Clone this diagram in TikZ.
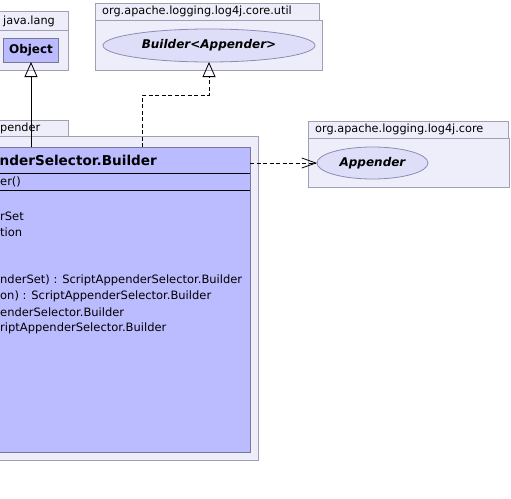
\documentclass[tikz,border=0pt]{standalone}
\usepackage{fontspec}
\setmainfont{DejaVu Sans}
\usetikzlibrary{arrows.meta,shapes.geometric}
\definecolor{pkgfill}{RGB}{238,238,251}
\definecolor{pkgline}{RGB}{160,160,180}
\definecolor{clsfill}{RGB}{187,187,255}
\definecolor{clsline}{RGB}{120,120,150}
\definecolor{ellfill}{RGB}{222,222,248}
\definecolor{ellline}{RGB}{140,140,180}
\tikzset{
  pkg/.style={draw=pkgline, fill=pkgfill, line width=0.9pt, anchor=north west, inner sep=0pt, outer sep=0pt},
  pkgtext/.style={anchor=west, inner sep=0pt, font=\fontsize{11.3}{13}\selectfont},
  cls/.style={draw=clsline, fill=clsfill, line width=0.9pt, anchor=north west, inner sep=0pt, outer sep=0pt},
  iface/.style={ellipse, draw=ellline, fill=ellfill, line width=0.8pt, inner sep=0pt, outer sep=0pt},
  mtext/.style={anchor=west, inner sep=0pt, font=\fontsize{11.5}{13}\selectfont},
  sepline/.style={draw=black, line width=0.9pt},
  inherit/.style={draw=black, line width=0.8pt, -{Triangle[open,length=15pt,width=13pt]}},
  realize/.style={draw=black, line width=0.8pt, dash pattern=on 4pt off 2.5pt, -{Triangle[open,length=15pt,width=13pt]}},
  depend/.style={draw=black, line width=0.8pt, dash pattern=on 4pt off 2.5pt, -{Straight Barb[length=14pt,width=10pt]}},
}
\begin{document}
\begin{tikzpicture}[x=1pt,y=-1pt]
\useasboundingbox (0,0) rectangle (511,498);
\clip (0,0) rectangle (511,498);
\fill[white] (0,0) rectangle (511,498);

% java.lang package
\node[pkg, minimum width=73, minimum height=19] (jltab) at (-5,11) {};
\node[pkg, minimum width=73, minimum height=40] (jlbody) at (-5,30) {};
\node[pkgtext] (jlname) at (3,21) {java.lang};
\node[cls, anchor=center, minimum width=55, minimum height=24, font=\fontsize{12}{14}\selectfont\bfseries] (obj) at (31,50) {Object};

% org.apache.logging.log4j.core.util package
\node[pkg, minimum width=224, minimum height=17] (utab) at (95,3) {};
\node[pkg, minimum width=227, minimum height=50] (ubody) at (95,20) {};
\node[pkgtext] (uname) at (102,11.5) {org.apache.logging.log4j.core.util};
\node[iface, minimum width=212, minimum height=33, font=\fontsize{12}{14}\selectfont\bfseries\itshape] (bld) at (209,45.5) {Builder<Appender>};

% ...pender package
\node[pkg, minimum width=73, minimum height=16] (ptab) at (-5,120) {};
\node[pkg, minimum width=263, minimum height=324] (pbody) at (-5,136) {};
\node[pkgtext] (pname) at (0,128) {pender};

% class box
\node[cls, minimum width=255, minimum height=305] (cls) at (-5,147) {};
\coordinate (s1) at (0,173);
\coordinate (s2) at (0,190);
\draw[sepline] (cls.west |- s1) -- (cls.east |- s1);
\draw[sepline] (cls.west |- s2) -- (cls.east |- s2);
\node[anchor=west, inner sep=0pt, font=\fontsize{13.6}{16}\selectfont\bfseries] (title) at (-0.5,160) {nderSelector.Builder};
\node[mtext] (ctor) at (0,181.5) {er()};
\node[mtext] (a1) at (0,216.5) {rSet};
\node[mtext] (a2) at (0,232.5) {tion};
\node[mtext] (m1) at (0,280.5) {nderSet) : ScriptAppenderSelector.Builder};
\node[mtext] (m2) at (0,296.5) {on) : ScriptAppenderSelector.Builder};
\node[mtext] (m3) at (0,312.5) {enderSelector.Builder};
\node[mtext] (m4) at (0,328.5) {riptAppenderSelector.Builder};

% org.apache.logging.log4j.core package
\node[pkg, minimum width=200, minimum height=17] (ctab) at (308,121) {};
\node[pkg, minimum width=201, minimum height=49] (cbody) at (308,138) {};
\node[pkgtext] (cname) at (315,129.5) {org.apache.logging.log4j.core};
\node[iface, minimum width=111, minimum height=32, font=\fontsize{12}{14}\selectfont\bfseries\itshape] (app) at (372.5,163) {Appender};

% connectors
\draw[inherit] (obj.south |- cls.north) -- (obj.south);
\coordinate (r0) at (142,147);
\coordinate (r1) at (209,95);
\draw[realize] (r0) |- (r1) -- (bld.south);
\draw[depend] (cls.east |- app.west) -- (app.west);
\end{tikzpicture}
\end{document}
